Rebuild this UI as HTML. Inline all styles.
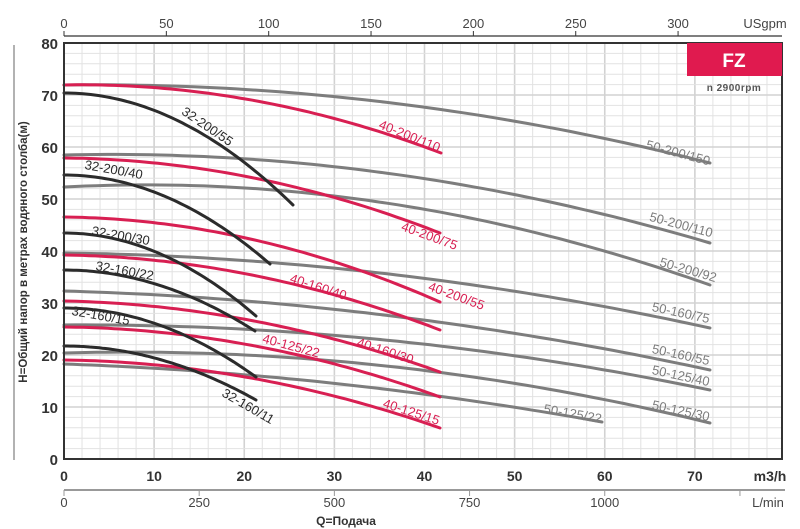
<!DOCTYPE html>
<html><head><meta charset="utf-8"><style>
html,body{margin:0;padding:0;background:#fff;}
svg{display:block;font-family:"Liberation Sans","DejaVu Sans",sans-serif;}
</style></head><body>
<svg id="s" width="800" height="529" viewBox="0 0 800 529" xmlns="http://www.w3.org/2000/svg">
<rect width="800" height="529" fill="#fff"/>
<g id="grid"></g>
<g id="curves" fill="none" stroke-width="3" stroke-linecap="round"></g>
<rect x="64" y="43" width="718" height="416" fill="none" stroke="#333" stroke-width="2"/>
<rect x="687" y="43" width="95" height="33" fill="#e01a4f"/>
<text x="734" y="67" fill="#fff" font-size="19" font-weight="bold" text-anchor="middle">FZ</text>
<text x="734" y="91" fill="#555" font-size="10" font-weight="bold" text-anchor="middle" letter-spacing="0.5">n  2900rpm</text>
<line x1="14" y1="45" x2="14" y2="460" stroke="#999" stroke-width="1.5"/>
<text transform="translate(27,252) rotate(-90)" font-size="11.5" font-weight="bold" fill="#333" text-anchor="middle">H=Общий напор в метрах водяного столба(м)</text>
<g id="axes"></g>
<g id="labels" font-size="13"></g>
<text x="346" y="525" font-size="12" font-weight="bold" fill="#333" text-anchor="middle">Q=Подача</text>
</svg>
<script>
var NS="http://www.w3.org/2000/svg";
function el(p,t,a,txt){var e=document.createElementNS(NS,t);for(var k in a)e.setAttribute(k,a[k]);if(txt!==undefined)e.textContent=txt;p.appendChild(e);return e;}
var g=document.getElementById('grid');
var X=function(q){return 64+q*9.0125;},Y=function(h){return 459-h*5.2;};
for(var q=2;q<80;q+=2){var x=X(q);el(g,'line',{x1:x,y1:43,x2:x,y2:459,stroke:q%10==0?'#d2d2d2':'#e2e2e2','stroke-width':q%10==0?1.6:1});}
for(var h=2;h<80;h+=2){var y=Y(h);el(g,'line',{x1:64,y1:y,x2:782,y2:y,stroke:h%10==0?'#d2d2d2':'#e2e2e2','stroke-width':h%10==0?1.6:1});}
var a=document.getElementById('axes');
for(var h=0;h<=80;h+=10)el(a,'text',{x:58,y:Y(h)+6,'font-size':15,'font-weight':'bold',fill:'#333','text-anchor':'end'},h);
for(var q=0;q<=70;q+=10)el(a,'text',{x:X(q),y:481,'font-size':14,'font-weight':'bold',fill:'#333','text-anchor':'middle'},q);
el(a,'text',{x:770,y:481,'font-size':14,'font-weight':'bold',fill:'#333','text-anchor':'middle'},'m3/h');
el(a,'line',{x1:64,y1:490,x2:785,y2:490,stroke:'#999','stroke-width':2});
for(var l=0;l<=1250;l+=250){var x=64+l*0.54075;el(a,'line',{x1:x,y1:490,x2:x,y2:496,stroke:'#999','stroke-width':1});
 if(l<1250)el(a,'text',{x:x,y:507,'font-size':13,fill:'#444','text-anchor':'middle'},l);}
el(a,'text',{x:768,y:507,'font-size':13,fill:'#444','text-anchor':'middle'},'L/min');
el(a,'line',{x1:64,y1:36,x2:782,y2:36,stroke:'#333','stroke-width':1.2});
for(var u=0;u<=300;u+=50){var x=64+u*2.0469;el(a,'line',{x1:x,y1:31,x2:x,y2:36,stroke:'#333','stroke-width':1});
 el(a,'text',{x:x,y:28,'font-size':13,fill:'#444','text-anchor':'middle'},u);}
el(a,'text',{x:765,y:28,'font-size':13,fill:'#444','text-anchor':'middle'},'USgpm');
function lag(pts,x){var s=0;for(var i=0;i<pts.length;i++){var t=pts[i][1];for(var j=0;j<pts.length;j++)if(j!=i)t*=(x-pts[j][0])/(pts[i][0]-pts[j][0]);s+=t;}return s;}
function par(p0,p1){var k=(p1[1]-p0[1])/Math.pow(p1[0]-p0[0],2);return [p0,[(p0[0]+p1[0])/2,p0[1]+k*Math.pow((p1[0]-p0[0])/2,2)],p1];}
var C=document.getElementById('curves');
function curve(pts,col){var x0=pts[0][0],x1=pts[pts.length-1][0],d='';for(var i=0;i<=60;i++){var x=x0+(x1-x0)*i/60;d+=(i?'L':'M')+x.toFixed(1)+','+lag(pts,x).toFixed(1);}el(C,'path',{d:d,stroke:col});}
var GR='#7d7d7d',RD='#d81f52',BK='#2b2b2b';
[[[64,85],[400,104],[710,163]],
 [[64,155],[480,188],[710,243]],
 [[64,187],[480,220],[710,285]],
 [[64,253],[480,286],[710,328]],
 [[64,291],[480,328],[710,370]],
 [[64,325],[480,351],[710,390]],
 [[64,353],[480,378],[710,423]],
 [[64,364],[480,402],[602,422]]].forEach(function(p){curve(p,GR);});
[[[64,85],[300,110],[441,153]],
 [[64,158],[350,202],[440,233]],
 [[64,217],[350,267],[440,302]],
 [[64,255],[200,266],[440,330]],
 [[64,301],[200,312],[440,372]],
 [[64,327],[200,337],[440,397]],
 [[64,360],[200,370],[440,428]]].forEach(function(p){curve(p,RD);});
[[[64,93],[293,205]],[[64,175],[270,264]],[[64,233],[256,316]],[[64,270],[255,331]],[[64,308],[256,377]],[[64,346],[256,400]]].forEach(function(p){curve(par(p[0],p[1]),BK);});
var L=document.getElementById('labels');
[['32-200/55',205,130,34,BK],['32-200/40',113,174,10,BK],['32-200/30',120,240,10,BK],['32-160/22',124,275,10,BK],['32-160/15',100,320,10,BK],['32-160/11',246,410,30,BK],
 ['40-200/110',408,140,22,RD],['40-200/75',428,240,20,RD],['40-200/55',455,300,20,RD],['40-160/40',317,291,18,RD],['40-160/30',384,355,18,RD],['40-125/22',290,350,15,RD],['40-125/15',410,416,18,RD],
 ['50-200/150',677,157,15,GR],['50-200/110',680,229,15,GR],['50-200/92',687,274,16,GR],['50-160/75',680,317,12,GR],['50-160/55',680,359,12,GR],['50-125/40',680,380,12,GR],['50-125/30',680,415,12,GR],['50-125/22',572,418,10,GR]
].forEach(function(t){el(L,'text',{transform:'translate('+t[1]+','+t[2]+') rotate('+t[3]+')',fill:t[4],'text-anchor':'middle'},t[0]);});
</script>
</body></html>
